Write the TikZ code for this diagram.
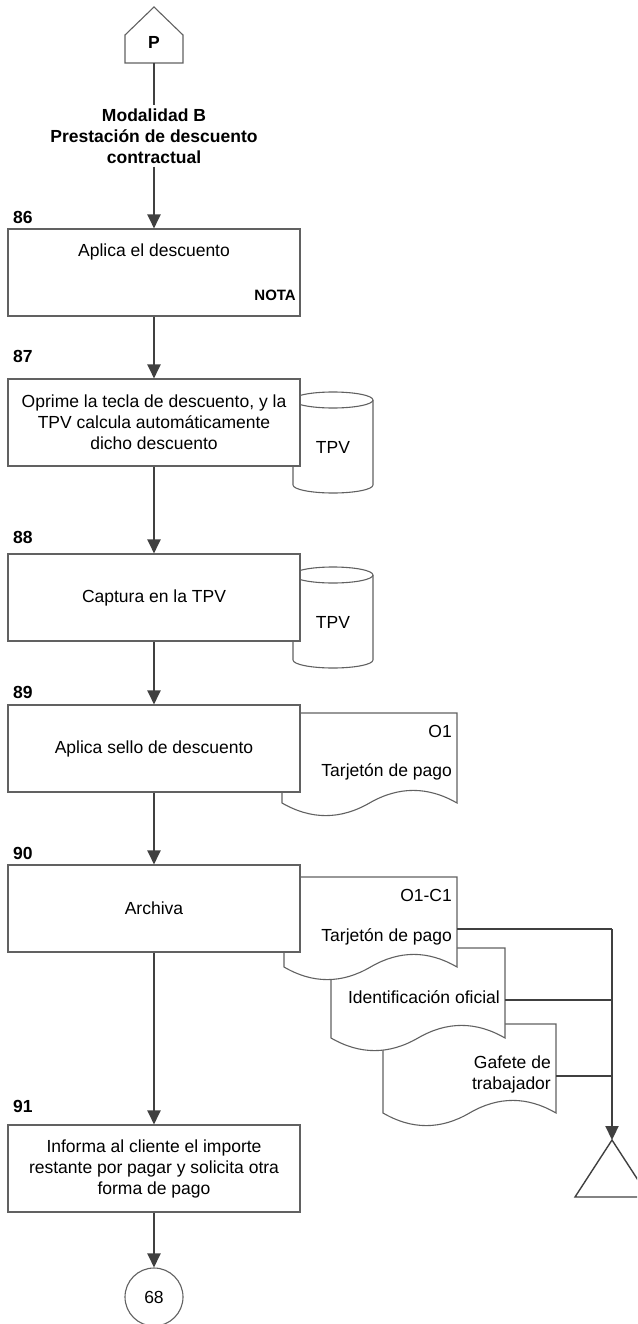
\documentclass[tikz,border=0pt]{standalone}
\usepackage{fontspec}
\setmainfont{Liberation Sans}
\usetikzlibrary{arrows.meta}

% document symbol: left, top, right, y of the wave ends, wave depth
\newcommand\docshape[5]{%
  \pgfmathsetmacro\dW{#3-#1}%
  \pgfmathsetmacro\dM{(#1+#3)/2}%
  \draw[outline, fill=white] (#1,#2) -- (#3,#2) -- (#3,#4)
    .. controls ({#3-\dW/6},{#4-0.6*#5}) and ({\dM+\dW/6},{#4-0.6*#5}) .. (\dM,#4)
    .. controls ({\dM-\dW/6},{#4+0.6*#5}) and ({#1+\dW/6},{#4+0.6*#5}) .. (#1,#4) -- cycle;}

% cylinder (storage): left, right, top ellipse centre y, bottom ellipse centre y
\newcommand\cylshape[4]{%
  \draw[outline, fill=white] (#1,#3) -- (#1,#4)
    arc[start angle=180, end angle=360, x radius=40pt, y radius=8pt] -- (#2,#3)
    arc[start angle=0, end angle=180, x radius=40pt, y radius=8pt] -- cycle;
  \draw[outline] (#1,#3) arc[start angle=180, end angle=360, x radius=40pt, y radius=8pt];}

\begin{document}
\begin{tikzpicture}[x=1pt, y=-1pt,
  outline/.style={draw=black!62, line width=1.1pt},
  stepbox/.style={outline, fill=white, minimum width=292pt, minimum height=87pt,
    inner sep=0pt, align=center, font=\fontsize{17.5}{21}\selectfont},
  flow/.style={draw=black!75, line width=2.2pt},
  arr/.style={flow, -{Triangle[length=14pt, width=13pt]}},
  txt/.style={font=\fontsize{17.5}{21}\selectfont, align=center, inner sep=0pt},
  btxt/.style={font=\fontsize{17.5}{21}\selectfont\bfseries, align=center, inner sep=0pt},
  num/.style={btxt, anchor=west},
]
\useasboundingbox (0,0) rectangle (637,1324);
\clip (0,0) rectangle (637,1324);

% off-page connector
\draw[outline, fill=white] (125,63) -- (125,35) -- (154,7) -- (183,35) -- (183,63) -- cycle;
\node[btxt] (pP) at (154,42) {P};
\coordinate (pbot) at (154,63);

\node[btxt, inner sep=3pt] (mod) at (154,136) {Modalidad B\\Prestación de descuento\\contractual};

% storage symbols behind the steps
\cylshape{293}{373}{400}{485}
\node[txt] (tpv87) at (333,447) {TPV};
\cylshape{293}{373}{575}{660}
\node[txt] (tpv88) at (333,622) {TPV};

% documents
\docshape{282}{713}{457}{803}{28}
\docshape{383}{1024}{556}{1113}{28}
\docshape{331}{948}{505}{1038}{28}
\docshape{284}{877}{457}{967}{28}

\node[txt, anchor=east] (o1) at (452,731) {O1};
\node[txt, anchor=east] (tp1) at (452,772) {Tarjetón de pago};
\node[txt, anchor=east] (o1c1) at (452,895) {O1-C1};
\node[txt, anchor=east] (tp2) at (452,937) {Tarjetón de pago};
\node[txt, anchor=east] (ido) at (500,997) {Identificación oficial};
\node[txt, anchor=east, align=right] (gaf) at (551,1074) {Gafete de\\trabajador};

% steps
\node[num] (n86) at (13,217) {86};
\node[stepbox] (b86) at (154,272.5) {};
\node[txt] (t86) at (154,252) {Aplica el descuento};
\node[btxt, anchor=east, font=\fontsize{15}{18}\selectfont\bfseries] (nota) at (296,295) {NOTA};

\node[num] (n87) at (13,356) {87};
\node[stepbox] (b87) at (154,422.5) {Oprime la tecla de descuento, y la\\TPV calcula automáticamente\\dicho descuento};

\node[num] (n88) at (13,537) {88};
\node[stepbox] (b88) at (154,597.5) {Captura en la TPV};

\node[num] (n89) at (13,692) {89};
\node[stepbox] (b89) at (154,748.5) {Aplica sello de descuento};

\node[num] (n90) at (13,853) {90};
\node[stepbox] (b90) at (154,908.5) {Archiva};

\node[num] (n91) at (13,1106) {91};
\node[stepbox] (b91) at (154,1168.5) {Informa al cliente el importe\\restante por pagar y solicita otra\\forma de pago};

\node[outline, circle, fill=white, minimum size=58pt, txt] (c68) at (154,1297) {68};

% archive symbol
\draw[outline, draw=black!75, line width=1.4pt] (612,1140) -- (575,1197) -- (649,1197) -- cycle;
\coordinate (tri) at (612,1140);

% flow
\draw[flow] (pbot) -- (mod.north);
\draw[arr] (mod.south) -- (b86.north);
\draw[arr] (b86.south) -- (b87.north);
\draw[arr] (b87.south) -- (b88.north);
\draw[arr] (b88.south) -- (b89.north);
\draw[arr] (b89.south) -- (b90.north);
\draw[arr] (b90.south) -- (b91.north);
\draw[arr] (b91.south) -- (c68.north);

% documents to the archive
\coordinate (d1) at (457,929);
\coordinate (d2) at (505,1000);
\coordinate (d3) at (556,1076);
\coordinate (jn) at (612,929);
\draw[flow] (d1) -- (jn);
\draw[arr] (jn) -- (tri);
\draw[flow] (d2) -- (d2 -| jn);
\draw[flow] (d3) -- (d3 -| jn);
\end{tikzpicture}
\end{document}
